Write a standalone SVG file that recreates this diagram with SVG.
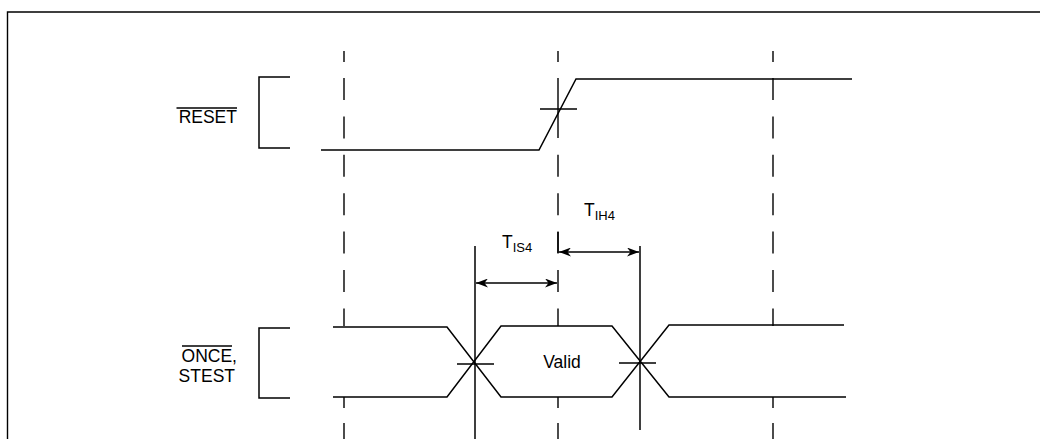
<svg xmlns="http://www.w3.org/2000/svg" width="1040" height="439" viewBox="0 0 1040 439">
<defs>
<style>
.ln{fill:none;stroke:#000;stroke-width:1.5}
.fr{fill:none;stroke:#000;stroke-width:1.4}
.ds{fill:none;stroke:#000;stroke-width:1.4}
.dd{fill:none;stroke:#000;stroke-width:1.4;stroke-dasharray:22 16.4}
.tx{font-family:"Liberation Sans",Arial,sans-serif;font-size:17.5px;fill:#000}
.sb{font-family:"Liberation Sans",Arial,sans-serif;font-size:13px;fill:#000}
.ar{fill:none;stroke:#000;stroke-width:1.7}
</style>
<marker id="ah" viewBox="0 0 12 9" refX="12" refY="4.5" markerWidth="12" markerHeight="9" markerUnits="userSpaceOnUse" orient="auto-start-reverse">
<path d="M0,0 L12,4.5 L0,9 L3.5,4.5 Z" fill="#000"/>
</marker>
</defs>
<rect width="1040" height="439" fill="#fff"/>
<g id="frame">
<path class="fr" d="M7.5,439 V12 H1040"/>
</g>
<g id="gridlines">
<path class="ds" d="M344,51 V62 M344,397 V408 M344,423 V439"/>
<path class="dd" d="M344,78 V326"/>
<path class="ds" d="M558,51 V62 M558,78 V138 M558,397 V408 M558,423 V439"/>
<path class="dd" d="M558,154.8 V326"/>
<path class="ds" d="M773,51 V62 M773,397 V408 M773,423 V439"/>
<path class="dd" d="M773,78 V326"/>
</g>
<g id="reset-label">
<text class="tx" x="237" y="123" text-anchor="end">RESET</text>
<path class="ln" d="M176.5,108 H237" stroke-width="1.2"/>
<path class="ln" d="M290,77 H259 V148 H290"/>
</g>
<g id="reset-signal">
<path class="ln" d="M321,150 H539 L576,79 H852"/>
<path class="ln" d="M540,109 H577"/>
</g>
<g id="once-label">
<text class="tx" x="237" y="362" text-anchor="end">ONCE,</text>
<text class="tx" x="235" y="382" text-anchor="end">STEST</text>
<path class="ln" d="M182,346 H232" stroke-width="1.2"/>
<path class="ln" d="M290,328 H259 V398 H290"/>
</g>
<g id="once-signal">
<path class="ln" d="M333,327 H447 L501,397 H612 L669,325 H844"/>
<path class="ln" d="M333,397 H447 L501,326 H612 L669,397 H846"/>
<path class="ln" d="M457,364 H494 M619,363 H656"/>
<path class="ln" d="M475,246 V439 M640,246 V430"/>
<text class="tx" x="562" y="368" text-anchor="middle">Valid</text>
</g>
<g id="connectors">
<path class="ar" d="M476,283 H557" marker-start="url(#ah)" marker-end="url(#ah)"/>
<path class="ar" d="M559,252 H639" marker-start="url(#ah)" marker-end="url(#ah)"/>
<path class="ds" d="M558,232 V253"/>
</g>
<g id="timing-labels">
<text class="tx" x="502" y="248" font-size="16">T<tspan class="sb" dy="4">IS4</tspan></text>
<text class="tx" x="584" y="216" font-size="16">T<tspan class="sb" dy="4">IH4</tspan></text>
</g>
</svg>
